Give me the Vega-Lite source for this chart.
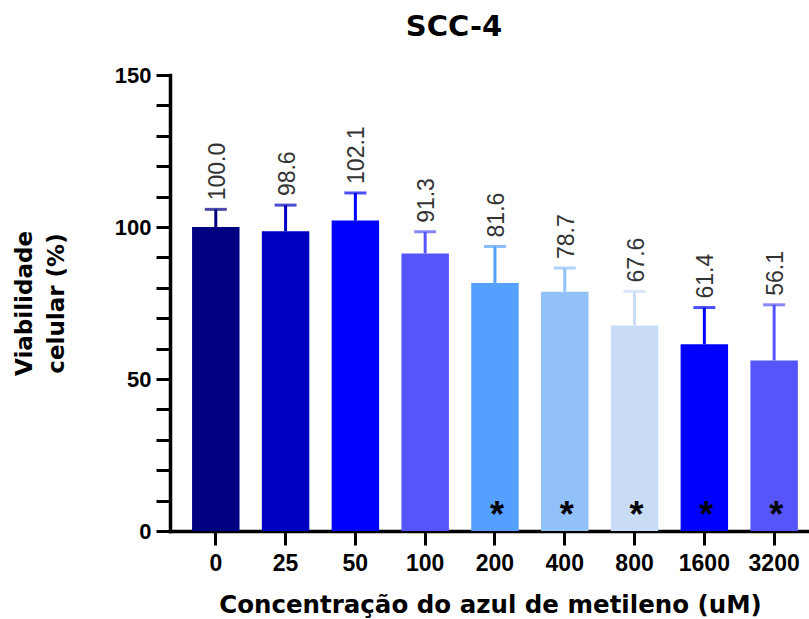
{
  "$schema": "https://vega.github.io/schema/vega-lite/v6.json",
  "width": 640,
  "height": 456,
  "autosize": {"type": "none"},
  "padding": {"left": 170, "top": 75, "right": 0, "bottom": 88},
  "background": "white",
  "config": {
    "view": {"stroke": null},
    "axisY": {
      "tickSize": 14,
      "tickWidth": 3,
      "tickColor": "black",
      "domainWidth": 3.5,
      "domainColor": "black",
      "domainCap": "square",
      "labelFont": "Liberation Sans",
      "labelFontWeight": "bold",
      "labelFontSize": 22,
      "labelColor": "black",
      "labelPadding": 5,
      "labelOverlap": false,
      "titleFont": "DejaVu Sans",
      "titleFontWeight": "bold",
      "titleFontSize": 23,
      "titleColor": "black",
      "titleLineHeight": 32,
      "titlePadding": 46,
      "grid": false
    }
  },
  "title": {
    "text": "SCC-4",
    "font": "DejaVu Sans",
    "fontSize": 29,
    "fontWeight": "bold",
    "color": "black",
    "anchor": "middle",
    "frame": "group",
    "baseline": "alphabetic",
    "offset": -1,
    "dx": -36
  },
  "data": {
    "values": [
      {"conc": "0", "value": 100.0, "upper": 105.8, "sig": ""},
      {"conc": "25", "value": 98.6, "upper": 107.2, "sig": ""},
      {"conc": "50", "value": 102.1, "upper": 111.2, "sig": ""},
      {"conc": "100", "value": 91.3, "upper": 98.4, "sig": ""},
      {"conc": "200", "value": 81.6, "upper": 93.6, "sig": "*"},
      {"conc": "400", "value": 78.7, "upper": 86.5, "sig": "*"},
      {"conc": "800", "value": 67.6, "upper": 78.8, "sig": "*"},
      {"conc": "1600", "value": 61.4, "upper": 73.5, "sig": "*"},
      {"conc": "3200", "value": 56.1, "upper": 74.4, "sig": "*"}
    ]
  },
  "encoding": {
    "x": {
      "field": "conc",
      "type": "nominal",
      "sort": null,
      "scale": {"paddingInner": 0.32, "paddingOuter": 0.245, "align": 0.645, "round": false},
      "axis": {
        "title": "Concentração do azul de metileno (uM)",
        "labelAngle": 0,
        "labelFont": "Liberation Sans",
        "labelFontWeight": "bold",
        "labelFontSize": 23,
        "labelColor": "black",
        "labelPadding": 7,
        "tickSize": 14,
        "tickWidth": 3,
        "tickColor": "black",
        "domainWidth": 3.5,
        "domainColor": "black",
        "domainCap": "square",
        "titleFont": "DejaVu Sans",
        "titleFontWeight": "bold",
        "titleFontSize": 24.5,
        "titleColor": "black",
        "titlePadding": 18,
        "grid": false
      }
    }
  },
  "layer": [
    {
      "mark": {"type": "bar"},
      "encoding": {
        "y": {
          "field": "value",
          "type": "quantitative",
          "title": ["Viabilidade", "celular (%)"],
          "scale": {"domain": [0, 150], "nice": false},
          "axis": {
            "values": [0, 10, 20, 30, 40, 50, 60, 70, 80, 90, 100, 110, 120, 130, 140, 150],
            "labelExpr": "datum.value % 50 === 0 ? datum.label : ''",
            "encode": {"ticks": {"update": {"x2": {"signal": "datum.value % 50 === 0 ? -14 : -7"}}}}
          }
        },
        "color": {
          "field": "conc",
          "type": "nominal",
          "sort": null,
          "scale": {
            "domain": ["0", "25", "50", "100", "200", "400", "800", "1600", "3200"],
            "range": ["#000080", "#0000C0", "#0000FF", "#5555FA", "#55A0FF", "#92C0F8", "#C9DCF6", "#0000FF", "#5555FA"]
          },
          "legend": null
        }
      }
    },
    {
      "mark": {"type": "rule", "strokeWidth": 3},
      "encoding": {
        "y": {
          "field": "value",
          "type": "quantitative",
          "title": ["Viabilidade", "celular (%)"],
          "axis": {
            "values": [0, 10, 20, 30, 40, 50, 60, 70, 80, 90, 100, 110, 120, 130, 140, 150],
            "labelExpr": "datum.value % 50 === 0 ? datum.label : ''",
            "encode": {"ticks": {"update": {"x2": {"signal": "datum.value % 50 === 0 ? -14 : -7"}}}}
          }
        },
        "y2": {"field": "upper"},
        "color": {"field": "conc", "type": "nominal", "sort": null, "legend": null}
      }
    },
    {
      "mark": {"type": "tick", "thickness": 3, "size": 22},
      "encoding": {
        "y": {
          "field": "upper",
          "type": "quantitative",
          "title": ["Viabilidade", "celular (%)"],
          "axis": {
            "values": [0, 10, 20, 30, 40, 50, 60, 70, 80, 90, 100, 110, 120, 130, 140, 150],
            "labelExpr": "datum.value % 50 === 0 ? datum.label : ''",
            "encode": {"ticks": {"update": {"x2": {"signal": "datum.value % 50 === 0 ? -14 : -7"}}}}
          }
        },
        "color": {"field": "conc", "type": "nominal", "sort": null, "legend": null}
      }
    },
    {
      "mark": {"type": "text", "angle": 270, "align": "left", "baseline": "middle", "dx": 9, "dy": 2, "font": "Liberation Sans", "fontSize": 23, "color": "#333333"},
      "encoding": {
        "y": {
          "field": "upper",
          "type": "quantitative",
          "title": ["Viabilidade", "celular (%)"],
          "axis": {
            "values": [0, 10, 20, 30, 40, 50, 60, 70, 80, 90, 100, 110, 120, 130, 140, 150],
            "labelExpr": "datum.value % 50 === 0 ? datum.label : ''",
            "encode": {"ticks": {"update": {"x2": {"signal": "datum.value % 50 === 0 ? -14 : -7"}}}}
          }
        },
        "text": {"field": "value", "type": "quantitative", "format": ".1f"}
      }
    },
    {
      "mark": {"type": "text", "font": "Liberation Sans", "fontWeight": "bold", "fontSize": 36, "dx": 2, "dy": -4, "baseline": "alphabetic", "color": "black"},
      "encoding": {
        "y": {
          "datum": 0,
          "type": "quantitative",
          "title": ["Viabilidade", "celular (%)"],
          "axis": {
            "values": [0, 10, 20, 30, 40, 50, 60, 70, 80, 90, 100, 110, 120, 130, 140, 150],
            "labelExpr": "datum.value % 50 === 0 ? datum.label : ''",
            "encode": {"ticks": {"update": {"x2": {"signal": "datum.value % 50 === 0 ? -14 : -7"}}}}
          }
        },
        "text": {"field": "sig", "type": "nominal"}
      }
    }
  ]
}
